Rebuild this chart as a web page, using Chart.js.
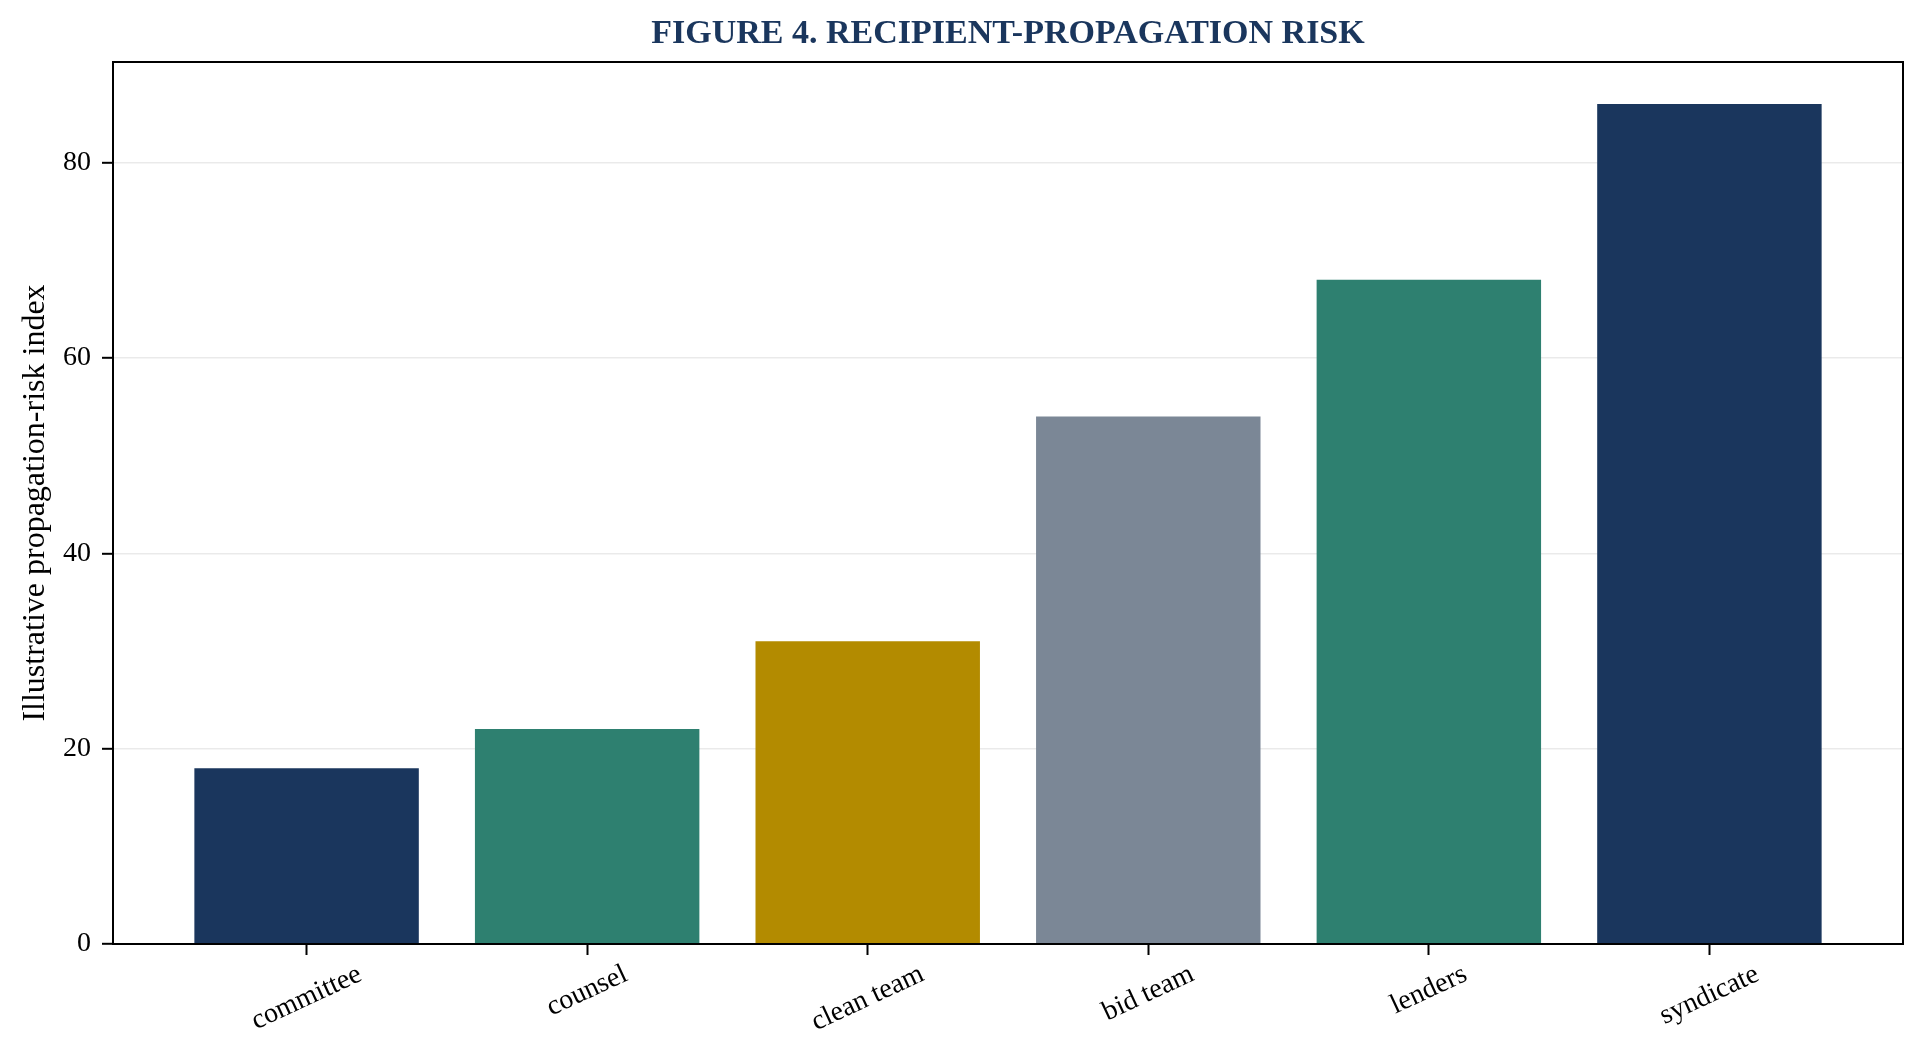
<!DOCTYPE html>
<html>
<head>
<meta charset="utf-8">
<title>Figure 4. Recipient-propagation risk</title>
<script src="https://cdn.jsdelivr.net/npm/chart.js@4.4.1/dist/chart.umd.min.js"></script>
<style>
  html, body { margin: 0; padding: 0; background: #fff; }
  #wrap { width: 1924px; height: 1056px; position: relative; }
</style>
</head>
<body>
<div id="wrap"><canvas id="myChart"></canvas></div>
<script>
// data
const categories = ['committee', 'counsel', 'clean team', 'bid team', 'lenders', 'syndicate'];
const riskIndex = [18, 22, 31, 54, 68, 86];
const yTicks = [0, 20, 40, 60, 80];

// styling
const barColors = ['#1a365d', '#2e8070', '#b38b00', '#7b8796', '#2e8070', '#1a365d'];
const SERIF = '"Liberation Serif", "DejaVu Serif", serif';
const LABEL_ROT = 25;

// full box around the plot area (matplotlib spines)
const boxPlugin = {
  id: 'box',
  afterDraw(chart) {
    const a = chart.chartArea, ctx = chart.ctx;
    ctx.save();
    ctx.strokeStyle = '#000';
    ctx.lineWidth = 2;
    ctx.strokeRect(a.left, a.top, a.right - a.left, a.bottom - a.top);
    ctx.restore();
  }
};

// rotated category labels, centred under each tick
const catLabelPlugin = {
  id: 'catLabels',
  afterDraw(chart) {
    const xs = chart.scales.x, ctx = chart.ctx;
    const ang = LABEL_ROT * Math.PI / 180;
    const size = 28;
    ctx.save();
    ctx.font = size + 'px ' + SERIF;
    ctx.fillStyle = '#000';
    ctx.textAlign = 'center';
    ctx.textBaseline = 'middle';
    categories.forEach((lab, i) => {
      const x = xs.getPixelForValue(i);
      const w = ctx.measureText(lab).width;
      const h = size * 1.1;
      const boxH = w * Math.sin(ang) + h * Math.cos(ang);
      const y = chart.chartArea.bottom + 11 + 4 + boxH / 2;
      ctx.save();
      ctx.translate(x, y);
      ctx.rotate(-ang);
      ctx.fillText(lab, 0, 0);
      ctx.restore();
    });
    ctx.restore();
  }
};

const n = categories.length;
const chartConfig = {
  type: 'bar',
  data: {
    datasets: [{
      data: riskIndex.map((v, i) => ({ x: i, y: v })),
      backgroundColor: barColors,
      borderWidth: 0,
      categoryPercentage: 0.8,
      barPercentage: 1.0
    }]
  },
  options: {
    responsive: true,
    maintainAspectRatio: false,
    animation: false,
    devicePixelRatio: 1,
    layout: { padding: { left: 0, right: 21, top: 0, bottom: 0 } },
    plugins: {
      legend: { display: false },
      tooltip: { enabled: false },
      title: {
        display: true,
        fullSize: false,
        text: 'FIGURE 4. RECIPIENT-PROPAGATION RISK',
        color: '#1a365d',
        font: { family: SERIF, size: 34, weight: 'bold', lineHeight: 1.2 },
        padding: { top: 14, bottom: 7.2 }
      }
    },
    scales: {
      x: {
        type: 'linear',
        offset: false,
        min: -0.4 - 0.05 * (n - 0.2),
        max: (n - 1) + 0.4 + 0.05 * (n - 0.2),
        afterBuildTicks(scale) {
          scale.ticks = categories.map((_, i) => ({ value: i }));
        },
        afterFit(scale) { scale.height = 112; },
        grid: {
          offset: false,
          drawOnChartArea: false,
          drawTicks: true,
          tickLength: 11,
          tickColor: '#000',
          tickWidth: 2
        },
        border: { display: true, color: '#000', width: 2 },
        ticks: { display: false }
      },
      y: {
        min: 0,
        max: 86 * 1.05,
        z: 1,
        afterBuildTicks(scale) {
          scale.ticks = yTicks.map(v => ({ value: v }));
        },
        afterFit(scale) { scale.width = 113; },
        grid: {
          color: 'rgba(176,176,176,0.27)',
          lineWidth: 1.6,
          drawTicks: true,
          tickLength: 11,
          tickColor: '#000',
          tickWidth: 2
        },
        border: { display: true, color: '#000', width: 2 },
        ticks: {
          color: '#000',
          padding: 11,
          font: { family: SERIF, size: 28 }
        },
        title: {
          display: true,
          text: 'Illustrative propagation-risk index',
          color: '#000',
          font: { family: SERIF, size: 32, lineHeight: 1.2 },
          padding: { top: 16, bottom: 0 }
        }
      }
    }
  },
  plugins: [boxPlugin, catLabelPlugin]
};

try {
  new Chart(document.getElementById('myChart'), chartConfig);
} catch (error) {
  console.error('Error generating chart:', error);
}
</script>
</body>
</html>
